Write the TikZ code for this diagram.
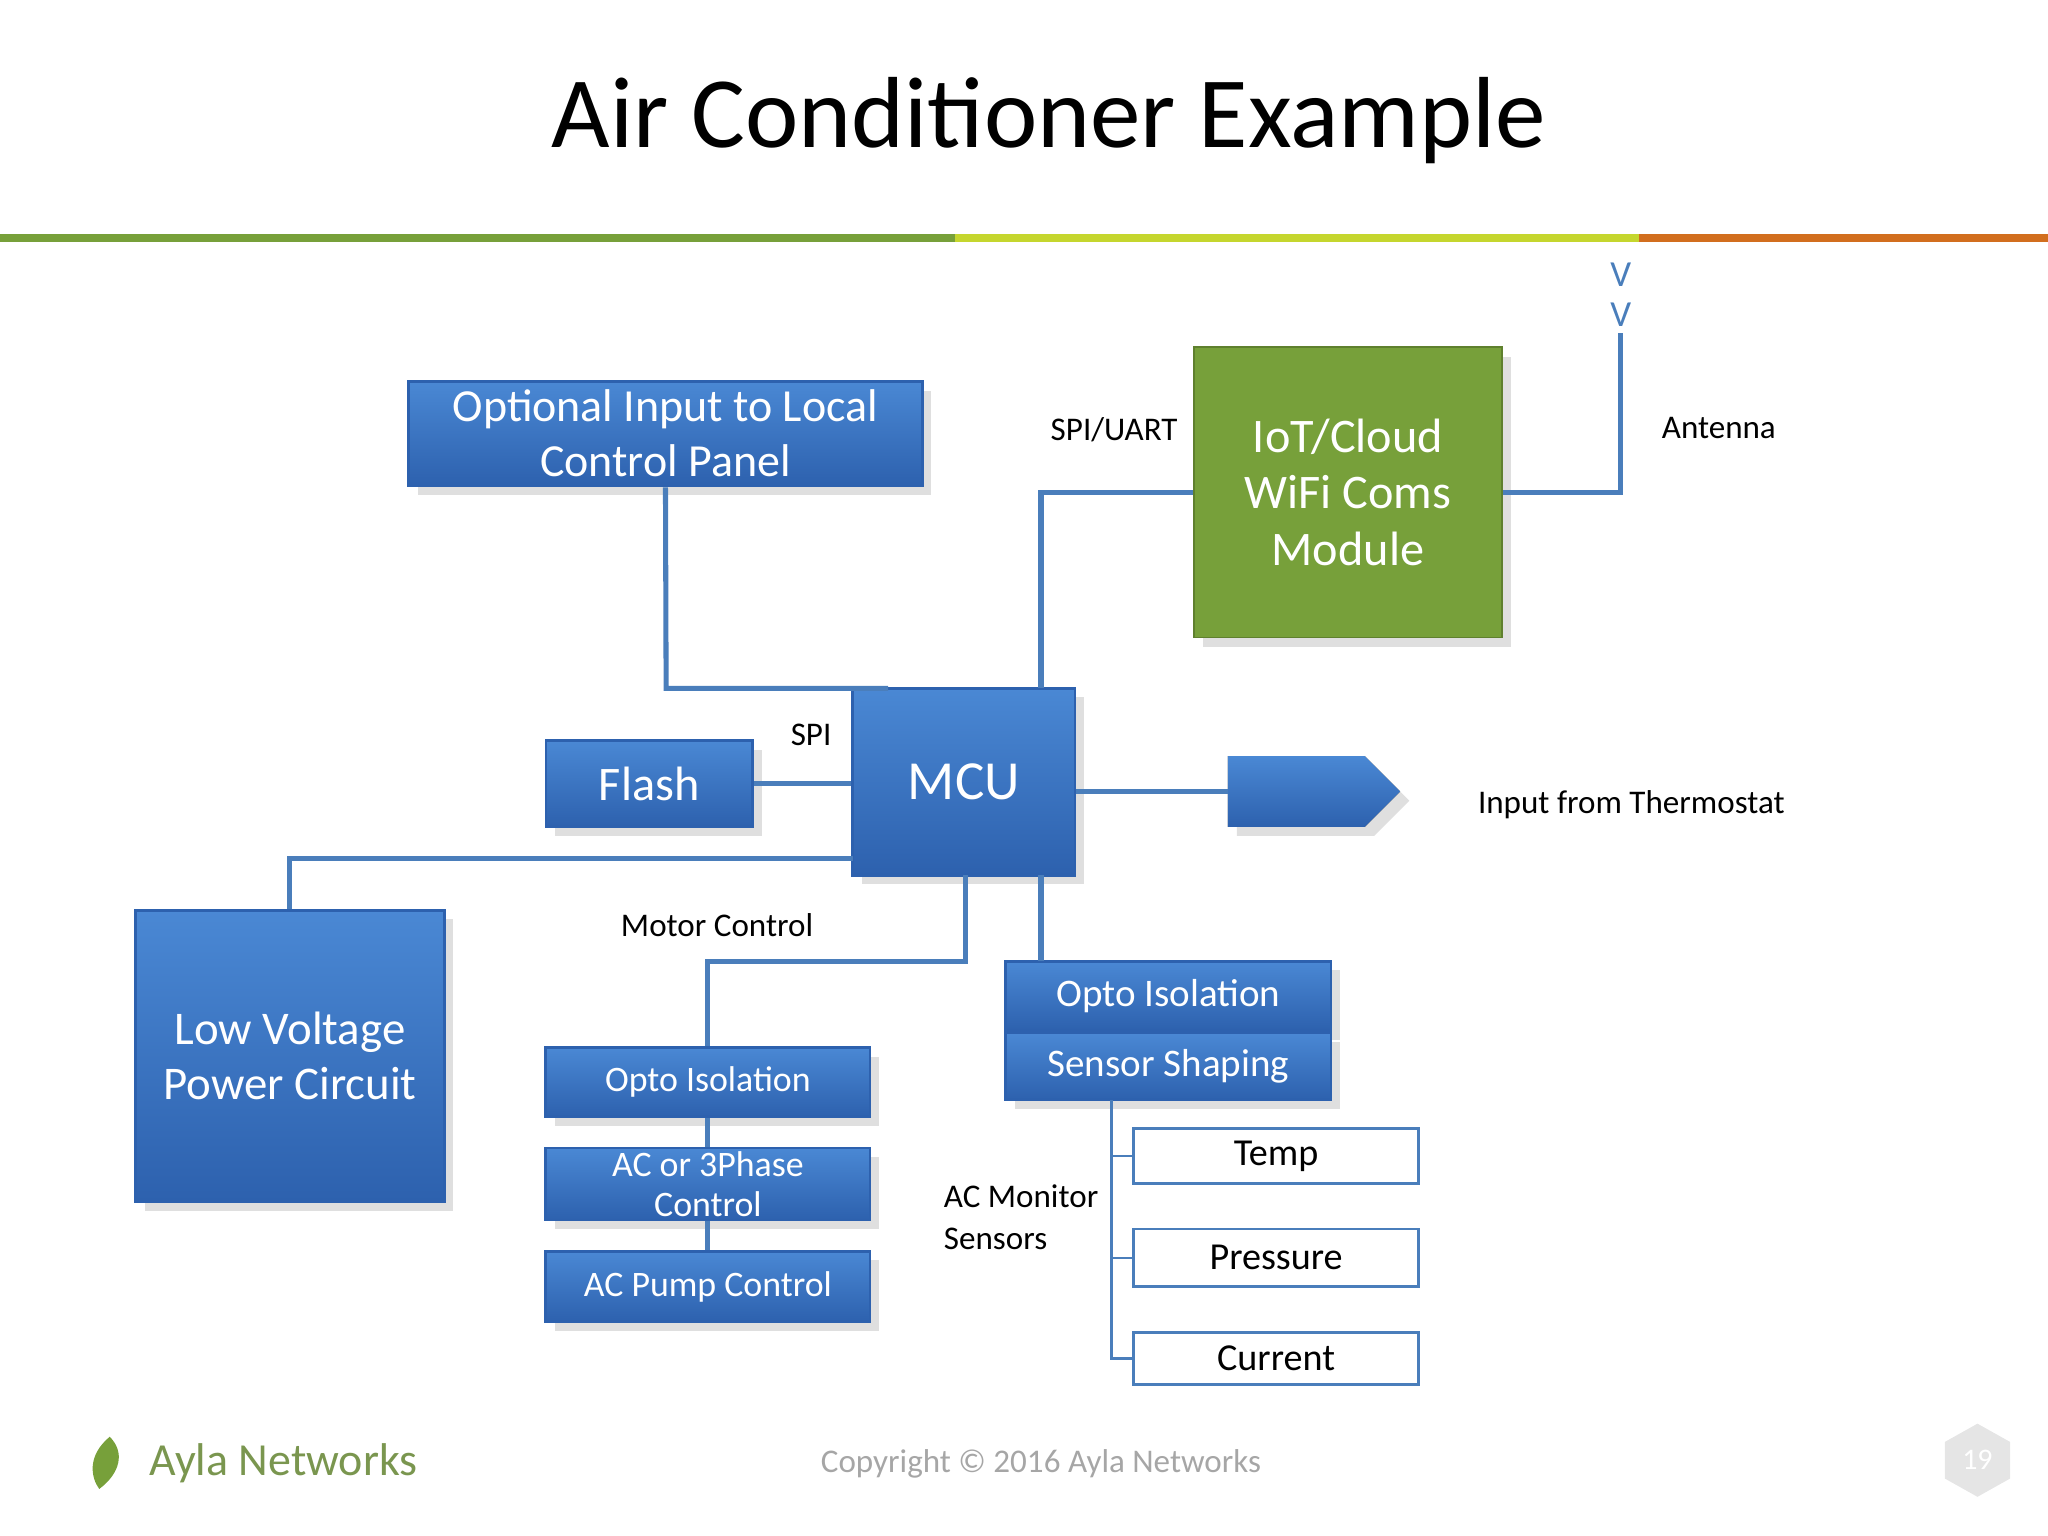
\documentclass[tikz,border=0pt]{standalone}
\usepackage{fontspec}
\setmainfont{Carlito}
\usetikzlibrary{shapes.arrows,shadows}
\definecolor{bltop}{HTML}{4A88D4}
\definecolor{blbot}{HTML}{2D61AE}
\definecolor{ln}{HTML}{4A7EBB}
\definecolor{gr}{HTML}{77A03A}
\definecolor{yg}{HTML}{C5D62E}
\definecolor{orn}{HTML}{D26E1E}
\begin{document}
\begin{tikzpicture}[x=0.01cm,y=-0.01cm,
  blk/.style={draw=blbot,line width=0.6pt,top color=bltop,bottom color=blbot,text=white,align=center,inner sep=0pt,drop shadow={opacity=0.25,shadow xshift=2pt,shadow yshift=-2pt}},
  wb/.style={draw=ln,line width=0.6pt,fill=white,inner sep=0pt,font=\fontsize{8.3pt}{10pt}\selectfont},
  con/.style={ln,line width=1.1pt},
  lab/.style={font=\fontsize{7.2pt}{9pt}\selectfont,align=left}]
\useasboundingbox (0,0) rectangle (1568,1176);
\node at (803,92) {\fontsize{22pt}{26pt}\selectfont Air Conditioner Example};
\fill[gr] (0,179) rectangle (731,185);
\fill[yg] (731,179) rectangle (1255,185);
\fill[orn] (1255,179) rectangle (1568,185);
% boxes
\path (313,292) -- (706,372) node[midway,blk,minimum width=3.93cm,minimum height=0.8cm,font=\fontsize{10pt}{12pt}\selectfont] (opt) {Optional Input to Local\\Control Panel};
\path (914,266) -- (1150,488) node[midway,draw=gr!80!black,fill=gr,text=white,align=center,inner sep=0pt,minimum width=2.36cm,minimum height=2.22cm,drop shadow={opacity=0.25,shadow xshift=2pt,shadow yshift=-2pt},font=\fontsize{10.5pt}{12.2pt}\selectfont] (iot) {IoT/Cloud\\WiFi Coms\\Module};
\path (418,567) -- (576,633) node[midway,blk,minimum width=1.58cm,minimum height=0.66cm,font=\fontsize{10.5pt}{13pt}\selectfont] (flash) {Flash};
\path (653,527) -- (823,670) node[midway,blk,minimum width=1.7cm,minimum height=1.43cm,font=\fontsize{12pt}{14pt}\selectfont] (mcu) {MCU};
\fill[top color=bltop,bottom color=blbot,drop shadow={opacity=0.25,shadow xshift=2pt,shadow yshift=-2pt}] (940,579) -- (1045,579) -- (1072,606) -- (1045,633) -- (940,633) -- cycle;
\coordinate (arr) at (940,606);
\path (104,697) -- (340,920) node[midway,blk,minimum width=2.36cm,minimum height=2.23cm,font=\fontsize{10.2pt}{12pt}\selectfont] (lv) {Low Voltage\\Power Circuit};
\path (418,802) -- (666,855) node[midway,blk,minimum width=2.48cm,minimum height=0.53cm,font=\fontsize{7.8pt}{10pt}\selectfont] (o1) {Opto Isolation};
\path (418,879) -- (666,934) node[midway,blk,minimum width=2.48cm,minimum height=0.55cm,font=\fontsize{7.8pt}{8.8pt}\selectfont] (ac3) {AC or 3Phase\\Control};
\path (418,958) -- (666,1012) node[midway,blk,minimum width=2.48cm,minimum height=0.54cm,font=\fontsize{7.8pt}{10pt}\selectfont] (pump) {AC Pump Control};
\path (770,736) -- (1019,789) node[midway,blk,minimum width=2.49cm,minimum height=0.53cm,font=\fontsize{8.5pt}{10pt}\selectfont] (o2) {Opto Isolation};
\path (770,791) -- (1019,842) node[midway,blk,minimum width=2.49cm,minimum height=0.51cm,font=\fontsize{8.5pt}{10pt}\selectfont] (ss) {Sensor Shaping};
\path (868,864) -- (1086,906) node[midway,wb,minimum width=2.18cm,minimum height=0.42cm] (temp) {Temp};
\path (868,941) -- (1086,985) node[midway,wb,minimum width=2.18cm,minimum height=0.44cm] (pres) {Pressure};
\path (868,1020) -- (1086,1060) node[midway,wb,minimum width=2.18cm,minimum height=0.40cm] (cur) {Current};
% connectors
\draw[con] (opt.south) -- (510,527) -- (680,527);
\draw[con] (flash.east) -- (mcu.west |- flash.east);
\draw[con] (797,527) -- (797,377) -- (iot.west |- 0,377);
\coordinate (ant) at (1241,255);
\draw[con] (iot.east |- 0,377) -- (1241,377) -- (ant);
\node[ln,font=\fontsize{8pt}{8pt}\selectfont] at (1241,210) {V};
\node[ln,font=\fontsize{8pt}{8pt}\selectfont] at (1241,241) {V};
\draw[con] (mcu.east |- arr) -- (arr);
\draw[con] (653,657) -- (222,657) -- (lv.north);
\draw[con] (739,670) -- (739,736) -- (542,736) -- (o1.north);
\draw[con] (797,670) -- (797,736);
\draw[con] (o1.south) -- (ac3.north);
\draw[con] (ac3.south) -- (pump.north);
\draw[ln,line width=0.5pt] (851,842) -- (851,1040) -- (cur.west);
\draw[ln,line width=0.5pt] (851,885) -- (temp.west);
\draw[ln,line width=0.5pt] (851,963) -- (pres.west);
% labels
\node[lab] at (853,329) {SPI/UART};
\node[lab] at (1316,328) {Antenna};
\node[lab] at (621,563) {SPI};
\node[lab] at (1249,616) {Input from Thermostat};
\node[lab] at (549,708) {Motor Control};
\node[lab,anchor=west,inner sep=0pt] at (722,932) {AC Monitor\\Sensors};
% footer
\fill[gr] (84,1100) .. controls (66,1115) and (70,1132) .. (76,1140) .. controls (92,1128) and (96,1112) .. (84,1100) -- cycle;
\node[anchor=west,text=gr!70!gray,font=\fontsize{10pt}{12pt}\selectfont] at (102,1120) {Ayla Networks};
\node[text=gray!70,font=\fontsize{7.2pt}{9pt}\selectfont] at (797,1121) {Copyright © 2016 Ayla Networks};
\fill[gray!20] (1514,1090) -- (1539,1104) -- (1539,1132) -- (1514,1146) -- (1489,1132) -- (1489,1104) -- cycle;
\node[white,font=\fontsize{6.5pt}{8pt}\selectfont] at (1514,1118) {19};
\end{tikzpicture}
\end{document}
